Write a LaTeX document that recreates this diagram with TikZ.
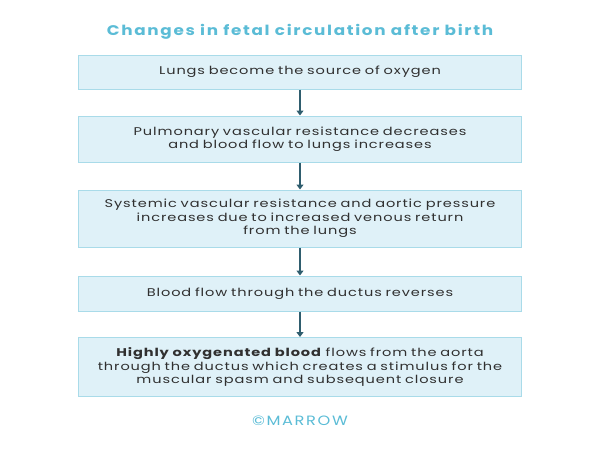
\documentclass[tikz,border=0pt]{standalone}
\usepackage{fontspec}
\setmainfont{Poppins}[FakeStretch=1.3, LetterSpace=8, WordSpace=1.3]
\newfontfamily\titlefont{Poppins}[FakeStretch=1.2, LetterSpace=12]
\usetikzlibrary{arrows.meta}
\definecolor{boxfill}{HTML}{DFF1F8}
\definecolor{boxline}{HTML}{A9DBE9}
\definecolor{arrowc}{HTML}{2F5D6E}
\definecolor{titlec}{HTML}{5BBCD6}
\definecolor{txt}{HTML}{303030}
\tikzset{
  stepbox/.style={draw=boxline, fill=boxfill, line width=1pt, minimum width=443pt, text width=436pt, align=center, inner sep=0pt, font=\fontsize{11.2}{13.5}\selectfont, text=txt},
  flow/.style={draw=arrowc, line width=1.6pt, -{Triangle[length=5pt,width=7pt]}}
}
\begin{document}
\begin{tikzpicture}[x=1pt,y=-1pt]
\useasboundingbox (0,0) rectangle (600,450);
\node[text=titlec, font=\titlefont\fontsize{14}{16}\selectfont\bfseries] (title) at (300,31.5) {Changes in fetal circulation after birth};
\node[stepbox, minimum height=34pt] (b1) at (300,72) {Lungs become the source of oxygen};
\node[stepbox, minimum height=46pt] (b2) at (300,139) {Pulmonary vascular resistance decreases\\and blood flow to lungs increases};
\node[stepbox, minimum height=57pt] (b3) at (300,218.5) {Systemic vascular resistance and aortic pressure\\increases due to increased venous return\\from the lungs};
\node[stepbox, minimum height=35pt] (b4) at (300,293.5) {Blood flow through the ductus reverses};
\node[stepbox, minimum height=59pt] (b5) at (300,367) {\textbf{Highly oxygenated blood} flows from the aorta\\through the ductus which creates a stimulus for the\\muscular spasm and subsequent closure};
\node[text=titlec, font=\titlefont\fontsize{13.5}{15}\selectfont] (cr) at (300,421) {\textcopyright MARROW};
\draw[flow] (b1) -- (b2);
\draw[flow] (b2) -- (b3);
\draw[flow] (b3) -- (b4);
\draw[flow] (b4) -- (b5);
\end{tikzpicture}
\end{document}
